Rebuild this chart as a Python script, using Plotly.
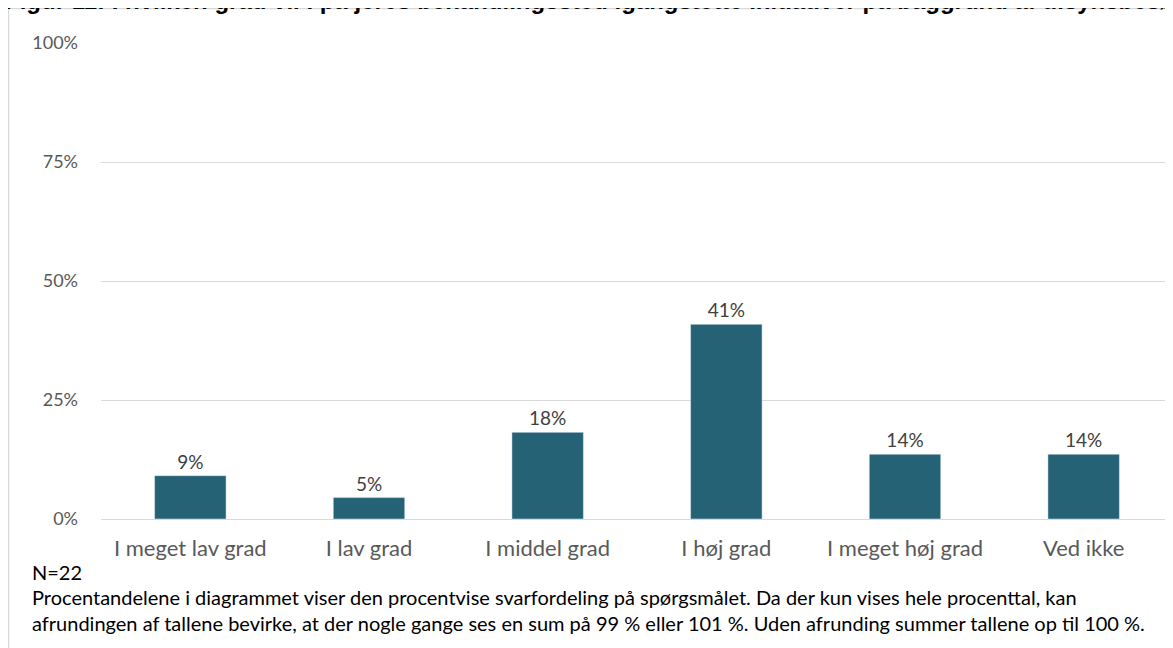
import plotly.graph_objects as go

categories = ["I meget lav grad", "I lav grad", "I middel grad", "I høj grad", "I meget høj grad", "Ved ikke"]
values = [9.1, 4.5, 18.2, 40.9, 13.6, 13.6]
labels = ["9%", "5%", "18%", "41%", "14%", "14%"]
tick_vals = [0, 25, 50, 75, 100]
tick_text = ["0%", "25%", "50%", "75%", "100%"]

title = "Figur 11: I hvilken grad vil I på jeres behandlingssted igangsætte initiativer på baggrund af tilsynsbesøget?"
note1 = "N=22"
note2 = ("Procentandelene i diagrammet viser den procentvise svarfordeling på spørgsmålet. Da der kun vises hele procenttal, kan<br>"
         "afrundingen af tallene bevirke, at der nogle gange ses en sum på 99 % eller 101 %. Uden afrunding summer tallene op til 100 %.")

FONT = "Lato, 'Open Sans', sans-serif"

# page body adds an 8px offset; figure coordinates below are relative to the figure
W, H = 1165, 640
L, T, B = 93, 35, 129
PH = H - T - B  # plot height
PW = W - L


def px(x):
    return (x - L) / PW


def py(y):
    return (H - B - y) / PH


fig = go.Figure()
fig.add_trace(go.Bar(
    x=categories, y=values, text=labels, textposition="outside",
    textfont=dict(size=19, color="#404040", family=FONT),
    marker=dict(color="#256276"), cliponaxis=False, width=0.4,
))

fig.update_layout(
    width=W, height=H,
    margin=dict(l=L, r=0, t=T, b=B),
    paper_bgcolor="white", plot_bgcolor="white",
    showlegend=False,
    font=dict(family=FONT, color="#595959"),
    xaxis=dict(tickfont=dict(size=22, color="#595959"), showgrid=False, showline=False,
               ticks="", fixedrange=True, ticklabelstandoff=14),
    yaxis=dict(range=[0, 100], tickvals=tick_vals, ticktext=tick_text,
               tickfont=dict(size=18, color="#595959"), gridcolor="#d9d9d9", gridwidth=1,
               zeroline=True, zerolinecolor="#d9d9d9", zerolinewidth=1, ticks="", ticklabelstandoff=22),
    shapes=[dict(type="rect", xref="paper", yref="paper", x0=px(0.5), x1=px(W + 40), y0=py(H + 40), y1=py(0.5),
                 line=dict(color="#d9d9d9", width=1.5), fillcolor="rgba(0,0,0,0)", layer="below")],
)

fig.add_annotation(x=px(-5), xref="paper", xanchor="left", y=py(8), yref="paper", yanchor="bottom",
                   text="<b>" + title + "</b>", showarrow=False,
                   font=dict(family="Arial, 'Liberation Sans', sans-serif", size=24, color="black"))
fig.add_annotation(x=px(22), xref="paper", xanchor="left", y=py(564), yref="paper",
                   yanchor="middle", text=note1, showarrow=False,
                   font=dict(family=FONT, size=20, color="black"))
fig.add_annotation(x=px(22), xref="paper", xanchor="left", y=py(602), yref="paper",
                   yanchor="middle", align="left", text=note2, showarrow=False,
                   font=dict(family=FONT, size=20, color="black"))

fig.write_html("out.html")
